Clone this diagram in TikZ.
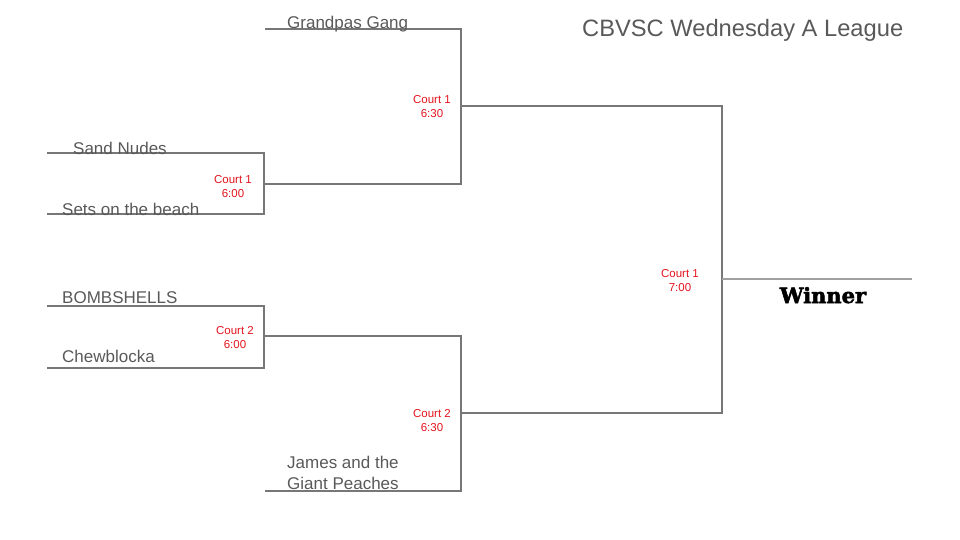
\documentclass[tikz,border=0pt]{standalone}
\usepackage{fontspec}
\setmainfont{Liberation Sans}
\newfontfamily\slabfont[FakeBold=2.5]{DejaVu Serif}
\definecolor{bracket}{HTML}{777777}
\definecolor{team}{HTML}{595959}
\definecolor{court}{HTML}{E3141E}

\begin{document}
\begin{tikzpicture}[x=1pt, y=-1pt,
    line/.style={draw=bracket, line width=2pt},
    teamname/.style={anchor=base west, text=team, inner sep=0pt, font=\fontsize{17}{21}\selectfont},
    slot/.style={align=center, text=court, inner sep=0pt, font=\fontsize{11.5}{14}\selectfont}]
    \useasboundingbox (0,0) rectangle (960,540);
    % bracket corners
    \coordinate (sn) at (47,153);
    \coordinate (sb) at (47,214);
    \coordinate (bs) at (47,306);
    \coordinate (cb) at (47,368);
    \coordinate (gg) at (265,29);
    \coordinate (jg) at (265,491);
    \coordinate (m1) at (264,184);
    \coordinate (m2) at (264,336);
    \coordinate (s1) at (461,106);
    \coordinate (s2) at (461,413);
    \coordinate (f) at (722,279);
    \coordinate (w) at (912,279);
    \draw [line] (sn) -| (m1) |- (sb);
    \draw [line] (bs) -| (m2) |- (cb);
    \draw [line] (gg) -| (s1) |- (m1);
    \draw [line] (jg) -| (s2) |- (m2);
    \draw [line] (s1) -| (f) |- (s2);
    \draw [line, draw=bracket!70] (f) -- (w);
    % teams
    \node [teamname] (grandpas) at (287,29) {Grandpas Gang};
    \node [teamname] (sand) at (73,155) {Sand Nudes};
    \node [teamname] (sets) at (62,215) {Sets on the beach};
    \node [teamname] (bomb) at (62,303) {BOMBSHELLS};
    \node [teamname] (chew) at (62,362) {Chewblocka};
    \node [teamname] (james) at (287,468) {James and the};
    \node [teamname] (peach) at (287,489) {Giant Peaches};
    % courts
    \node [slot] (c1a) at (233,187) {Court 1\\6:00};
    \node [slot] (c2a) at (235,338) {Court 2\\6:00};
    \node [slot] (c1b) at (432,107) {Court 1\\6:30};
    \node [slot] (c2b) at (432,421) {Court 2\\6:30};
    \node [slot] (c1c) at (680,281) {Court 1\\7:00};
    \node [anchor=base, inner sep=0pt, font=\slabfont\bfseries\fontsize{21}{24}\selectfont] (winner) at (823,303) {Winner};
    \node [anchor=base west, text=team, inner sep=0pt, font=\fontsize{23.7}{28}\selectfont] (title) at (582,37) {CBVSC Wednesday A League};
  \end{tikzpicture}
\end{document}
